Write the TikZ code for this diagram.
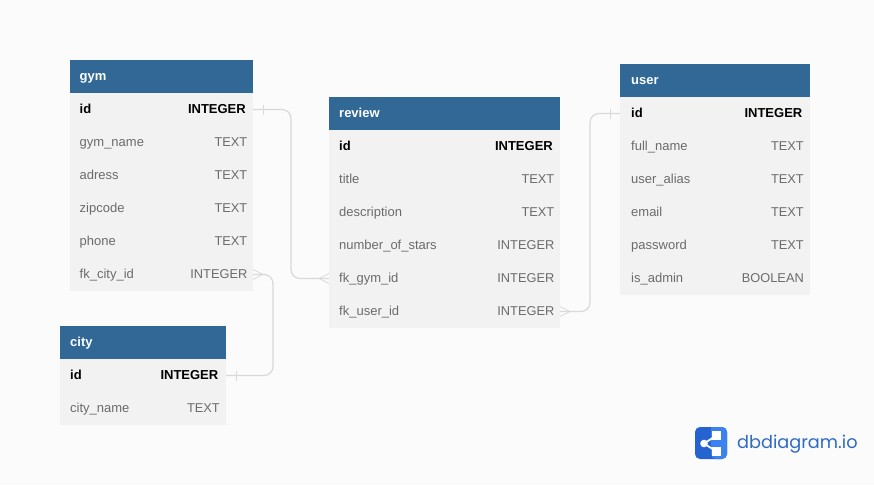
\documentclass[tikz,border=0pt]{standalone}
\usepackage{fontspec}
\setmainfont{Liberation Sans}
\newfontfamily\logofont{Poppins}
\usetikzlibrary{positioning}
\definecolor{pagebg}{HTML}{FBFBFB}
\definecolor{headblue}{HTML}{316896}
\definecolor{rowgray}{HTML}{F2F2F2}
\definecolor{fieldgray}{HTML}{6B6B6B}
\definecolor{linegray}{HTML}{D9D9D9}
\definecolor{logodark}{HTML}{2563D0}
\definecolor{logolight}{HTML}{3B82F0}
\definecolor{logotext}{HTML}{2F6BC4}
\tikzset{
    headbox/.style={fill=headblue,anchor=north west,minimum height=33pt,inner sep=0pt,outer sep=0pt},
    rowbox/.style={fill=rowgray,anchor=north west,minimum height=33pt,inner sep=0pt,outer sep=0pt},
    headtxt/.style={text=white,font=\fontsize{13}{13}\selectfont\bfseries,anchor=west,inner sep=0pt,text height=10pt,text depth=2pt},
    fieldtxt/.style={text=fieldgray,font=\fontsize{13}{13}\selectfont,anchor=west,inner sep=0pt,text height=10pt,text depth=2pt},
    typetxt/.style={text=fieldgray,font=\fontsize{12.8}{13}\selectfont,anchor=east,inner sep=0pt,text height=10pt,text depth=2pt},
    keyfieldtxt/.style={text=black,font=\fontsize{13}{13}\selectfont\bfseries,anchor=west,inner sep=0pt,text height=10pt,text depth=2pt},
    keytypetxt/.style={text=black,font=\fontsize{13}{13}\selectfont\bfseries,anchor=east,xshift=-1.5pt,inner sep=0pt,text height=10pt,text depth=2pt},
    relline/.style={draw=linegray,line width=1.2pt},
    relmark/.style={draw=linegray,line width=.8pt},
}
\begin{document}
\begin{tikzpicture}[x=1pt,y=-1pt]
    \useasboundingbox (0,0) rectangle (874,485);
    \fill[pagebg] (0,0) rectangle (874,485);
    % gym
    \node[headbox,minimum width=183.5pt] (gym) at (69.5,60) {};
    \node[headtxt] (gymtitle) at ([xshift=10pt]gym.west) {gym};
    \foreach \rowname/\fieldname/\typename/\kind [count=\i from 0] in {gymid/id/INTEGER/key,gymname/gym\_name/TEXT/,gymadress/adress/TEXT/,gymzip/zipcode/TEXT/,gymphone/phone/TEXT/,gymcity/fk\_city\_id/INTEGER/} {
        \node[rowbox,minimum width=183.5pt] (\rowname) at ([yshift={-33pt*\i}]gym.south west) {};
        \node[\kind fieldtxt] (\rowname f) at ([xshift=10pt]\rowname.west) {\fieldname};
        \node[\kind typetxt] (\rowname t) at ([xshift=-5.5pt]\rowname.east) {\typename};
    }
    % city
    \node[headbox,minimum width=166pt] (city) at (60,326) {};
    \node[headtxt] (citytitle) at ([xshift=10pt]city.west) {city};
    \foreach \rowname/\fieldname/\typename/\kind [count=\i from 0] in {cityid/id/INTEGER/key,cityname/city\_name/TEXT/} {
        \node[rowbox,minimum width=166pt] (\rowname) at ([yshift={-33pt*\i}]city.south west) {};
        \node[\kind fieldtxt] (\rowname f) at ([xshift=10pt]\rowname.west) {\fieldname};
        \node[\kind typetxt] (\rowname t) at ([xshift=-6pt]\rowname.east) {\typename};
    }
    % review
    \node[headbox,minimum width=231pt] (review) at (329,97) {};
    \node[headtxt] (reviewtitle) at ([xshift=10pt]review.west) {review};
    \foreach \rowname/\fieldname/\typename/\kind [count=\i from 0] in {reviewid/id/INTEGER/key,reviewtitl/title/TEXT/,reviewdesc/description/TEXT/,reviewstars/number\_of\_stars/INTEGER/,reviewgym/fk\_gym\_id/INTEGER/,reviewuser/fk\_user\_id/INTEGER/} {
        \node[rowbox,minimum width=231pt] (\rowname) at ([yshift={-33pt*\i}]review.south west) {};
        \node[\kind fieldtxt] (\rowname f) at ([xshift=10pt]\rowname.west) {\fieldname};
        \node[\kind typetxt] (\rowname t) at ([xshift=-5.5pt]\rowname.east) {\typename};
    }
    % user
    \node[headbox,minimum width=190pt] (user) at (620,64) {};
    \node[headtxt] (usertitle) at ([xshift=11pt]user.west) {user};
    \foreach \rowname/\fieldname/\typename/\kind [count=\i from 0] in {userid/id/INTEGER/key,userfull/full\_name/TEXT/,useralias/user\_alias/TEXT/,usermail/email/TEXT/,userpass/password/TEXT/,useradmin/is\_admin/BOOLEAN/} {
        \node[rowbox,minimum width=190pt] (\rowname) at ([yshift={-33pt*\i}]user.south west) {};
        \node[\kind fieldtxt] (\rowname f) at ([xshift=11pt]\rowname.west) {\fieldname};
        \node[\kind typetxt] (\rowname t) at ([xshift=-6pt]\rowname.east) {\typename};
    }
    % relations
    \draw[relline,rounded corners=9pt] (gymid.east) -- ++(38,0) |- (reviewgym.west);
    \draw[relline,rounded corners=9pt] (gymcity.east) -- ++(20,0) |- (cityid.east);
    \draw[relline,rounded corners=9pt] (reviewuser.east) -- ++(30,0) |- (userid.west);
    % ticks
    \draw[relmark] ([xshift=10pt,yshift=5pt]gymid.east) -- ([xshift=10pt,yshift=-5pt]gymid.east);
    \draw[relmark] ([xshift=10pt,yshift=5pt]cityid.east) -- ([xshift=10pt,yshift=-5pt]cityid.east);
    \draw[relmark] ([xshift=-10pt,yshift=5pt]userid.west) -- ([xshift=-10pt,yshift=-5pt]userid.west);
    % crow feet
    \draw[relmark] ([yshift=5pt]gymcity.east) -- ([xshift=10pt]gymcity.east) -- ([yshift=-5pt]gymcity.east);
    \draw[relmark] ([yshift=5pt]reviewgym.west) -- ([xshift=-10pt]reviewgym.west) -- ([yshift=-5pt]reviewgym.west);
    \draw[relmark] ([yshift=5pt]reviewuser.east) -- ([xshift=10pt]reviewuser.east) -- ([yshift=-5pt]reviewuser.east);
    % logo
    \fill[logodark,rounded corners=5pt] (695,427) rectangle (727,459);
    \fill[logolight,rounded corners=5pt] (711,427) -- (727,427) -- (727,459) -- (711,459) [sharp corners] -- cycle;
    \draw[white,line width=1.8pt] (716.5,435.5) -- (704,443.5) -- (716.5,451.5);
    \fill[white] (704,443.5) circle (3.8);
    \fill[white] (712,431) rectangle (721,440);
    \fill[white] (712,447) rectangle (721,456);
    \node[text=logotext,font=\logofont\fontsize{17.7}{18}\selectfont,anchor=west,inner sep=0pt] (logotxt) at (737,444) {dbdiagram.io};
\end{tikzpicture}
\end{document}
